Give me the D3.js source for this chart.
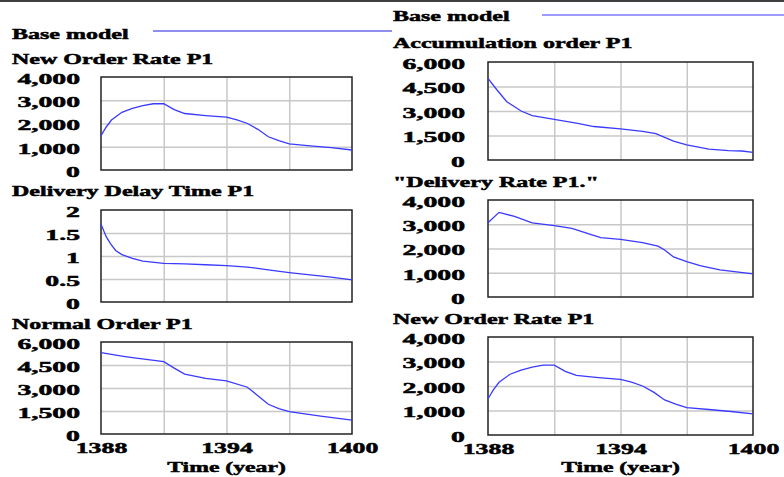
<!DOCTYPE html>
<html>
<head>
<meta charset="utf-8">
<script src="https://cdn.jsdelivr.net/npm/d3@7"></script>
<style>
  body { margin: 0; background: #fff; }
  svg text { font-family: "Liberation Serif", "Times New Roman", serif; font-weight: bold; fill: #000; stroke: #000; stroke-width: 0.5px; }
</style>
</head>
<body>
<svg id="chart" width="784" height="477"></svg>
<script>
// ---- data ----
var legendName = 'Base model';
var timeLabel = 'Time (year)';
var xTicks = [1388, 1394, 1400];
var xGrid = [1391, 1394, 1397];

var newOrderT = [1388, 1388.25, 1388.5, 1389, 1389.5, 1390, 1390.5, 1391, 1391.5, 1392, 1393, 1394, 1394.5, 1395, 1395.5, 1396, 1396.5, 1397, 1398, 1399, 1400];
var newOrderV = [1480, 1850, 2150, 2480, 2650, 2770, 2850, 2850, 2600, 2430, 2340, 2270, 2160, 2000, 1750, 1430, 1260, 1120, 1040, 960, 860];

var delayT = [1388, 1388.1, 1388.25, 1388.45, 1388.7, 1389, 1389.5, 1390, 1391, 1392, 1393, 1394, 1395, 1396, 1397, 1398, 1399, 1400];
var delayV = [1.69, 1.58, 1.42, 1.27, 1.12, 1.03, 0.95, 0.89, 0.84, 0.83, 0.81, 0.79, 0.76, 0.70, 0.64, 0.59, 0.54, 0.48];

var normalT = [1388, 1389, 1389.5, 1391, 1391.5, 1392, 1393, 1394, 1395, 1395.5, 1396, 1396.5, 1397, 1398.5, 1400];
var normalV = [5300, 5080, 4980, 4720, 4300, 3910, 3630, 3460, 3050, 2500, 1940, 1650, 1460, 1170, 910];

var accumT = [1388, 1388.4, 1388.85, 1389.5, 1390, 1391, 1392, 1392.8, 1394, 1395, 1395.6, 1396.4, 1397, 1398, 1398.9, 1399.5, 1400];
var accumV = [5000, 4300, 3570, 3000, 2720, 2490, 2260, 2050, 1900, 1750, 1620, 1150, 920, 670, 570, 550, 470];

var deliveryT = [1388, 1388.5, 1389.2, 1390, 1391, 1391.8, 1392.5, 1393.1, 1394, 1395, 1395.7, 1396, 1396.4, 1397, 1397.6, 1398.5, 1400];
var deliveryV = [3060, 3490, 3320, 3060, 2940, 2830, 2620, 2450, 2380, 2240, 2100, 1940, 1650, 1460, 1290, 1120, 950];

var ticks4000 = [0, 1000, 2000, 3000, 4000];
var ticks6000 = [0, 1500, 3000, 4500, 6000];
var ticks2 = [0, 0.5, 1, 1.5, 2];

// ---- layout ----
var svg = d3.select('#chart');
var lineColor = '#3a3aff';
var SX_TITLE = 1.6, SX_YT = 1.85, SX_XT = 1.72, SX_AX = 1.58;

function stretchedText(x, y, str, size, sx, anchor) {
    svg.append('text')
        .attr('transform', 'translate(' + x + ',' + y + ') scale(' + sx + ',1)')
        .attr('text-anchor', anchor || 'start')
        .style('font-size', size + 'px')
        .text(str);
}

// top rule
svg.append('line')
    .attr('x1', 0).attr('x2', 784).attr('y1', 1).attr('y2', 1)
    .style('stroke', '#000').style('stroke-width', '1.5px');

// legends
stretchedText(12, 38.5, legendName, 15, SX_TITLE);
svg.append('line').attr('x1', 153).attr('x2', 392).attr('y1', 31).attr('y2', 31)
    .style('stroke', '#1f1fe0').style('stroke-width', '1.2px');
stretchedText(393, 21, legendName, 15, SX_TITLE);
svg.append('line').attr('x1', 542).attr('x2', 784).attr('y1', 15).attr('y2', 15)
    .style('stroke', '#3a3aff').style('stroke-width', '1.2px');

var panels = [
    {title: 'New Order Rate P1', tY: 64, x0: 101, x1: 352, y0: 77, y1: 170, t: newOrderT, v: newOrderV, ticks: ticks4000, yr: 80, bottom: false},
    {title: 'Delivery Delay Time P1', tY: 196, x0: 101, x1: 352, y0: 210, y1: 302, t: delayT, v: delayV, ticks: ticks2, yr: 80, bottom: false},
    {title: 'Normal Order P1', tY: 329, x0: 101, x1: 352, y0: 342, y1: 434, t: normalT, v: normalV, ticks: ticks6000, yr: 80, bottom: true},
    {title: 'Accumulation order P1', tY: 48, x0: 488, x1: 753, y0: 62, y1: 160, t: accumT, v: accumV, ticks: ticks6000, yr: 465, bottom: false},
    {title: '"Delivery Rate P1."', tY: 187, x0: 488, x1: 753, y0: 200, y1: 297, t: deliveryT, v: deliveryV, ticks: ticks4000, yr: 465, bottom: false},
    {title: 'New Order Rate P1', tY: 324, x0: 488, x1: 753, y0: 337, y1: 435, t: newOrderT, v: newOrderV, ticks: ticks4000, yr: 465, bottom: true}
];

panels.forEach(function(p) {
    var titleX = p.x0 < 300 ? 12 : 393;
    stretchedText(titleX, p.tY, p.title, 15, SX_TITLE);

    var x = d3.scaleLinear().domain([1388, 1400]).range([p.x0, p.x1]);
    var y = d3.scaleLinear().domain([0, d3.max(p.ticks)]).range([p.y1, p.y0]);
    var w = p.x1 - p.x0, h = p.y1 - p.y0;

    // horizontal grid
    var gy = svg.append('g')
        .attr('transform', 'translate(' + p.x0 + ',0)')
        .call(d3.axisLeft(y).tickValues(p.ticks.slice(1, -1)).tickSize(-w).tickFormat(''));
    gy.select('.domain').remove();
    gy.selectAll('line').style('stroke', '#c8c8c8').style('stroke-width', '1.5px');

    // vertical grid
    var gx = svg.append('g')
        .attr('transform', 'translate(0,' + p.y1 + ')')
        .call(d3.axisBottom(x).tickValues(xGrid).tickSize(-h).tickFormat(''));
    gx.select('.domain').remove();
    gx.selectAll('line').style('stroke', '#c8c8c8').style('stroke-width', '1.5px');

    // frame
    svg.append('rect')
        .attr('x', p.x0).attr('y', p.y0).attr('width', w).attr('height', h)
        .style('fill', 'none').style('stroke', '#222').style('stroke-width', '1.5px');

    // y tick labels
    var yl = svg.append('g')
        .attr('transform', 'translate(' + p.x0 + ',0)')
        .call(d3.axisLeft(y).tickValues(p.ticks).tickSize(0).tickFormat(d3.format(',')));
    yl.select('.domain').remove();
    yl.selectAll('text')
        .attr('x', null).attr('dy', '0.42em')
        .attr('transform', 'translate(' + (p.yr - p.x0) + ',0) scale(' + SX_YT + ',1)')
        .attr('font-family', null)
        .style('font-size', '15px')
        .attr('text-anchor', 'end');

    // series
    var pts = p.t.map(function(t, i) { return [t, p.v[i]]; });
    svg.append('path')
        .attr('d', d3.line().x(function(d) { return x(d[0]); }).y(function(d) { return y(d[1]); })(pts))
        .style('fill', 'none')
        .style('stroke', lineColor)
        .style('stroke-width', '1.3px');

    if (p.bottom) {
        var xl = svg.append('g')
            .attr('transform', 'translate(0,' + p.y1 + ')')
            .call(d3.axisBottom(x).tickValues(xTicks).tickSize(0).tickFormat(d3.format('d')));
        xl.select('.domain').remove();
        xl.selectAll('text')
            .attr('y', null).attr('dy', null)
            .attr('transform', 'translate(0,18.5) scale(' + SX_XT + ',1)')
            .attr('font-family', null)
            .style('font-size', '15px');
        stretchedText((p.x0 + p.x1) / 2, 472, timeLabel, 15, SX_AX, 'middle');
    }
});
</script>
</body>
</html>
